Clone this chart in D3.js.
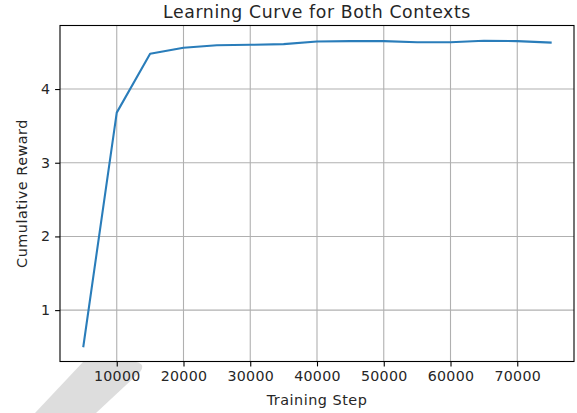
<!DOCTYPE html>
<html>
<head>
<meta charset="utf-8">
<script src="https://cdn.jsdelivr.net/npm/d3@7"></script>
<style>
  body { margin: 0; background: #fff; }
  text { font-family: "DejaVu Sans", sans-serif; fill: #262626; }
</style>
</head>
<body>
<svg id="chart" width="577" height="413"></svg>
<script>
// values
var steps = [5000, 10000, 15000, 20000, 25000, 30000, 35000, 40000, 45000, 50000, 55000, 60000, 65000, 70000, 75000]
var rewards = [0.51, 3.68, 4.48, 4.56, 4.595, 4.60, 4.61, 4.645, 4.65, 4.65, 4.636, 4.636, 4.655, 4.65, 4.63]
var xTicks = [10000, 20000, 30000, 40000, 50000, 60000, 70000]
var yTicks = [1, 2, 3, 4]

// plot box (window.top is read only, so no plain "top" here)
var box_left = 60, box_right = 574, box_top = 25.5, box_bottom = 361.5

var svg = d3.select('#chart')

// grey band in the bottom left corner of the screenshot
svg.append('path')
    .attr('d', 'M83,362 L136,362 Q146,364 140,372 L96,413 L35,413 Z')
    .attr('fill', '#dddddd')

// matplotlib style 5% margins
var xExt = d3.extent(steps), yExt = d3.extent(rewards)
var xPad = (xExt[1] - xExt[0]) * 0.05, yPad = (yExt[1] - yExt[0]) * 0.05

var x = d3.scaleLinear().domain([xExt[0] - xPad, xExt[1] + xPad]).range([box_left, box_right])
var y = d3.scaleLinear().domain([yExt[0] - yPad, yExt[1] + yPad]).range([box_bottom, box_top])

// grid
svg.append('g').selectAll('line').data(xTicks).join('line')
    .attr('x1', d => x(d)).attr('x2', d => x(d))
    .attr('y1', box_top).attr('y2', box_bottom)
    .attr('stroke', '#b0b0b0').attr('stroke-width', 1.1)
svg.append('g').selectAll('line').data(yTicks).join('line')
    .attr('y1', d => y(d)).attr('y2', d => y(d))
    .attr('x1', box_left).attr('x2', box_right)
    .attr('stroke', '#b0b0b0').attr('stroke-width', 1.1)

// the curve
svg.append('path')
    .datum(steps.map((s, i) => [s, rewards[i]]))
    .attr('fill', 'none')
    .attr('stroke', '#2a7dba')
    .attr('stroke-width', 2.08)
    .attr('stroke-linejoin', 'round')
    .attr('stroke-linecap', 'square')
    .attr('d', d3.line().x(d => x(d[0])).y(d => y(d[1])))

// axes
var xAxis = svg.append('g')
    .attr('transform', 'translate(0,' + box_bottom + ')')
    .call(d3.axisBottom(x).tickValues(xTicks).tickFormat(d3.format('d')).tickSize(4.9).tickPadding(4.9))
var yAxis = svg.append('g')
    .attr('transform', 'translate(' + box_left + ',0)')
    .call(d3.axisLeft(y).tickValues(yTicks).tickFormat(d3.format('d')).tickSize(4.9).tickPadding(4.9))

;[xAxis, yAxis].forEach(function(a) {
    a.select('.domain').remove()
    a.selectAll('.tick line').attr('stroke', '#000').attr('stroke-width', 1.1)
    a.selectAll('.tick text').attr('font-size', 14.2).attr('fill', '#262626')
        .attr('letter-spacing', 0.3)
        .style('font-family', '"DejaVu Sans", sans-serif')
})

// frame
svg.append('rect')
    .attr('x', box_left).attr('y', box_top)
    .attr('width', box_right - box_left).attr('height', box_bottom - box_top)
    .attr('fill', 'none').attr('stroke', '#000').attr('stroke-width', 1.1)

// labels
svg.append('text')
    .attr('x', (box_left + box_right) / 2).attr('y', 17.5)
    .attr('text-anchor', 'middle').attr('font-size', 17.3)
    .attr('letter-spacing', 0.6)
    .text('Learning Curve for Both Contexts')
svg.append('text')
    .attr('x', (box_left + box_right) / 2).attr('y', 405)
    .attr('text-anchor', 'middle').attr('font-size', 14.4)
    .attr('letter-spacing', 0.5)
    .text('Training Step')
svg.append('text')
    .attr('transform', 'translate(27,' + (box_top + box_bottom) / 2 + ') rotate(-90)')
    .attr('text-anchor', 'middle').attr('font-size', 14.4)
    .attr('letter-spacing', 0.5)
    .text('Cumulative Reward')
</script>
</body>
</html>
